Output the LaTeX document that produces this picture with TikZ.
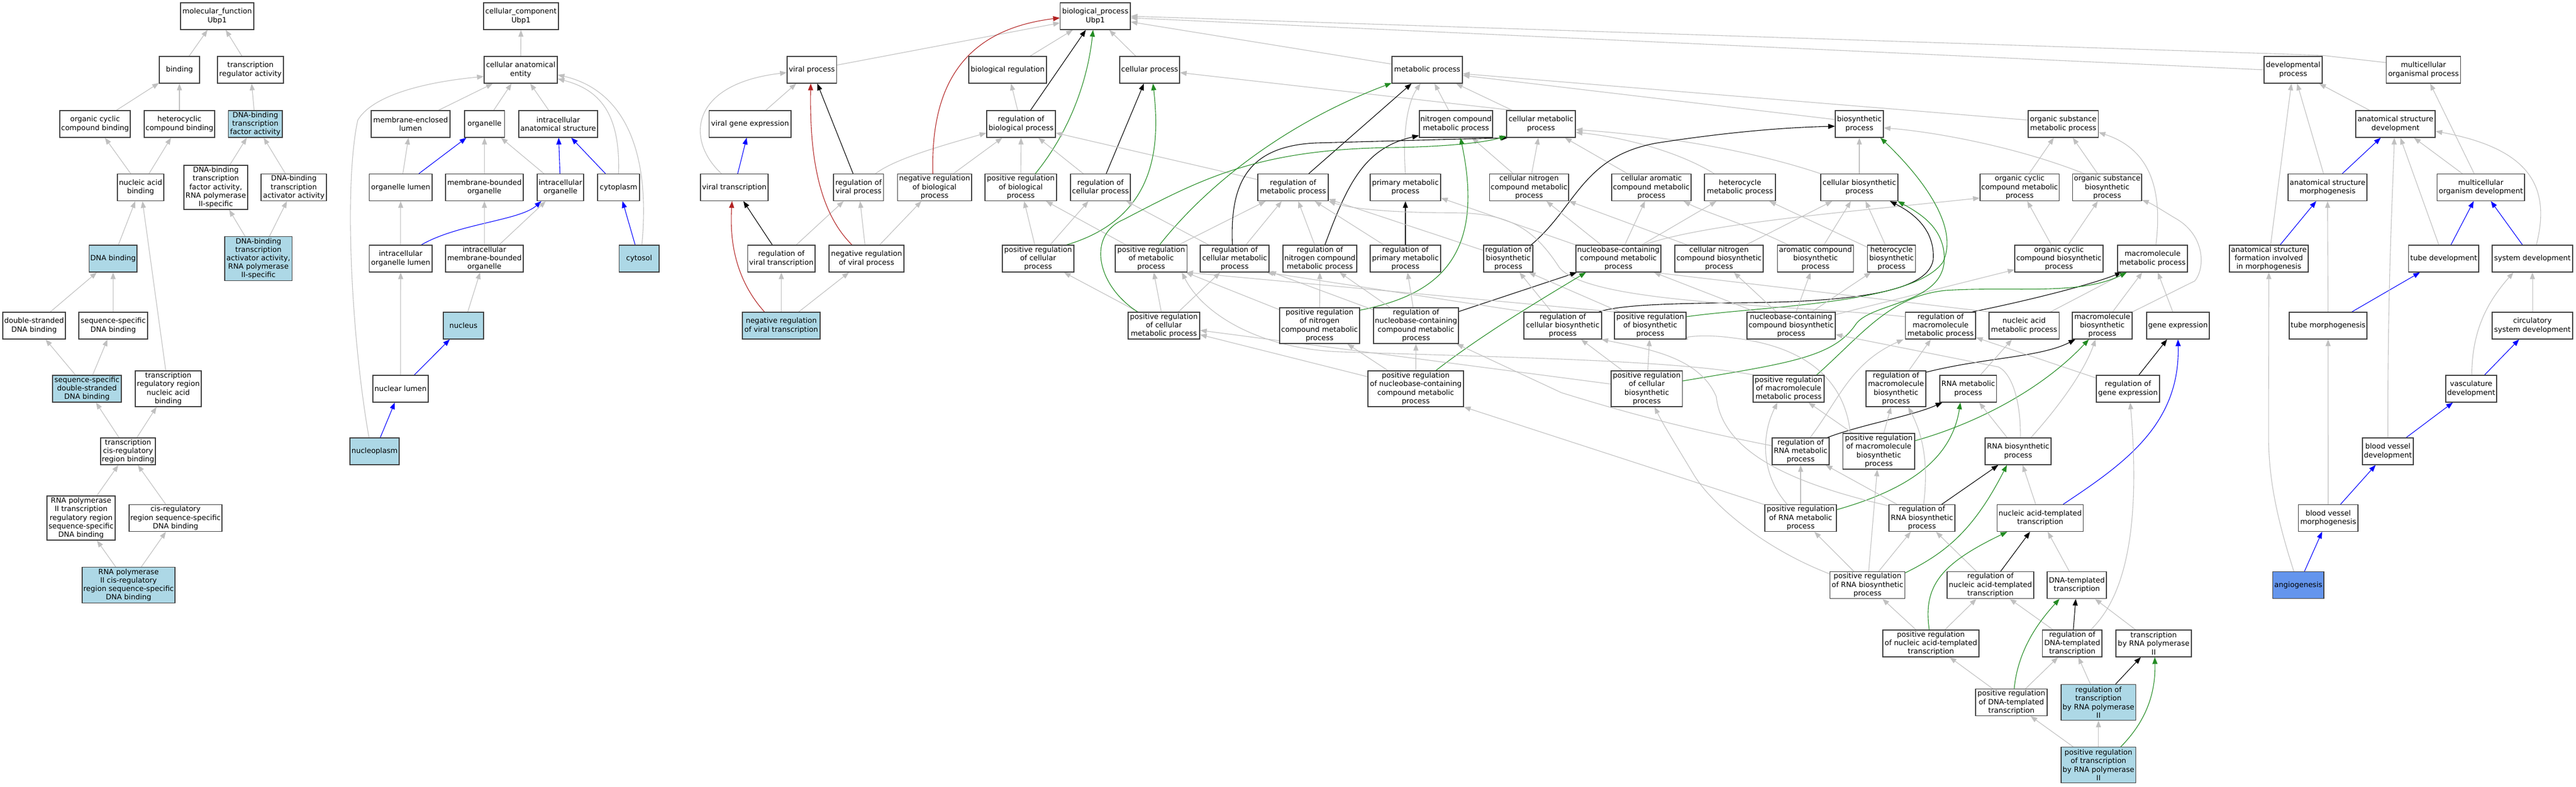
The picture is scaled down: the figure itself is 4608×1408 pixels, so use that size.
\documentclass[tikz,border=0pt]{standalone}
\usepackage{fontspec}
\setmainfont{DejaVu Sans}
\usetikzlibrary{arrows.meta}
\definecolor{edgegrey}{RGB}{192,192,192}
\definecolor{boxline}{RGB}{64,64,64}
\definecolor{lblue}{RGB}{173,216,230}
\definecolor{cblue}{RGB}{100,149,237}
\definecolor{fgreen}{RGB}{34,139,34}
\definecolor{fred}{RGB}{178,34,34}
\definecolor{pblue}{RGB}{0,0,255}
\pgfdeclarelayer{bglayer}
\pgfdeclarelayer{edgelayer}
\pgfsetlayers{bglayer,edgelayer,main}
\tikzset{
 gobox/.style={draw=boxline, line width=1.3pt, fill=white, inner sep=0pt, align=center, font=\fontsize{13}{15.2}\selectfont, text=black},
 lb/.style={fill=lblue},
 cb/.style={fill=cblue},
 gotip/.style={-{Triangle[length=12pt,width=9pt]}},
 eg/.style={gotip, draw=edgegrey, line width=1.1pt},
 ek/.style={gotip, draw=black, line width=1.1pt},
 eu/.style={gotip, draw=pblue, line width=1.1pt},
 en/.style={gotip, draw=fgreen, line width=1.1pt},
 er/.style={gotip, draw=fred, line width=1.1pt},
}
\newcommand{\GOnode}[7]{\node[gobox,#6,minimum width={(#3)-(#2)},minimum height={#5}] (#1) at ({((#2)+(#3))/2},{#4}) {#7};}
\newcommand{\GOe}[3][eg]{\draw[#1] (#2) -- (#3);}
\begin{document}
\begin{tikzpicture}[x=1pt,y=-1pt]
\begin{pgfonlayer}{bglayer}
\fill[white] (0,0) rectangle (4608,1408);
\end{pgfonlayer}
\useasboundingbox (0,0) rectangle (4608,1408);
% ---------------- molecular function
\GOnode{mf}{323}{454}{29}{48}{}{molecular\_function\\Ubp1}
\GOnode{bind}{285}{357}{125}{48}{}{binding}
\GOnode{tra}{389}{507}{125}{48}{}{transcription\\regulator activity}
\GOnode{occb}{107}{233}{222}{48}{}{organic cyclic\\compound binding}
\GOnode{hcb}{258}{384}{222}{48}{}{heterocyclic\\compound binding}
\GOnode{dbtf}{408.5}{505}{222}{48}{lb}{DNA-binding\\transcription\\factor activity}
\GOnode{nab}{210}{293}{335.5}{48}{}{nucleic acid\\binding}
\GOnode{dbtfp}{329}{443}{335.5}{79}{}{DNA-binding\\transcription\\factor activity,\\RNA polymerase\\II-specific}
\GOnode{dbtaa}{467}{584}{335.5}{48}{}{DNA-binding\\transcription\\activator activity}
\GOnode{dnab}{159.5}{245}{463}{48}{lb}{DNA binding}
\GOnode{dbtaap}{402}{522.5}{463}{79}{lb}{DNA-binding\\transcription\\activator activity,\\RNA polymerase\\II-specific}
\GOnode{dsdb}{5}{117}{583}{48}{}{double-stranded\\DNA binding}
\GOnode{ssdb}{141}{264}{583}{48}{}{sequence-specific\\DNA binding}
\GOnode{ssds}{94}{217}{696}{48}{lb}{sequence-specific\\double-stranded\\DNA binding}
\GOnode{trrnab}{242}{360}{696}{64}{}{transcription\\regulatory region\\nucleic acid\\binding}
\GOnode{tcrb}{180}{278}{808}{48}{}{transcription\\cis-regulatory\\region binding}
\GOnode{rptr}{84}{206}{927.5}{79}{}{RNA polymerase\\II transcription\\regulatory region\\sequence-specific\\DNA binding}
\GOnode{crss}{231}{397}{927.5}{48}{}{cis-regulatory\\region sequence-specific\\DNA binding}
\GOnode{rpcr}{147}{313}{1047.5}{64}{lb}{RNA polymerase\\II cis-regulatory\\region sequence-specific\\DNA binding}
% ---------------- cellular component
\GOnode{cc}{865}{999}{29}{48}{}{cellular\_component\\Ubp1}
\GOnode{cae}{866}{997}{125}{48}{}{cellular anatomical\\entity}
\GOnode{mel}{664}{805}{222}{48}{}{membrane-enclosed\\lumen}
\GOnode{org}{831}{902.5}{222}{48}{}{organelle}
\GOnode{ias}{928}{1069}{222}{48}{}{intracellular\\anatomical structure}
\GOnode{ol}{660.5}{773}{335.5}{48}{}{organelle lumen}
\GOnode{mbo}{797}{936}{335.5}{48}{}{membrane-bounded\\organelle}
\GOnode{io}{961}{1044}{335.5}{48}{}{intracellular\\organelle}
\GOnode{cyp}{1069}{1144}{335.5}{48}{}{cytoplasm}
\GOnode{iol}{660.5}{773}{463}{48}{}{intracellular\\organelle lumen}
\GOnode{imbo}{797}{936}{463}{48}{}{intracellular\\membrane-bounded\\organelle}
\GOnode{cyt}{1107.5}{1179}{463}{48}{lb}{cytosol}
\GOnode{nuc}{793}{865}{583}{48}{lb}{nucleus}
\GOnode{nl}{667}{766}{696}{48}{}{nuclear lumen}
\GOnode{np}{626}{714}{808}{48}{lb}{nucleoplasm}
% ---------------- biological process
\GOnode{bp}{1896.5}{2022}{29}{48}{}{biological\_process\\Ubp1}
\GOnode{vp}{1408}{1496.5}{125}{48}{}{viral process}
\GOnode{br}{1733}{1872}{125}{48}{}{biological regulation}
\GOnode{cp}{2003}{2110}{125}{48}{}{cellular process}
\GOnode{mp}{2490}{2616}{125}{48}{}{metabolic process}
\GOnode{dp}{4050}{4154}{125}{48}{}{developmental\\process}
\GOnode{mop}{4268.6}{4401.6}{125}{48}{}{multicellular\\organismal process}
\GOnode{vge}{1268.5}{1415}{222}{48}{}{viral gene expression}
\GOnode{rbp}{1765}{1888}{222}{48}{}{regulation of\\biological process}
\GOnode{ncmp}{2539}{2670}{222}{48}{}{nitrogen compound\\metabolic process}
\GOnode{cmp}{2695}{2818}{222}{48}{}{cellular metabolic\\process}
\GOnode{bsp}{3283}{3369}{222}{48}{}{biosynthetic\\process}
\GOnode{osmp}{3628}{3753.5}{222}{48}{}{organic substance\\metabolic process}
\GOnode{asd}{4214}{4356}{222}{48}{}{anatomical structure\\development}
\GOnode{vt}{1253}{1374}{335.5}{48}{}{viral transcription}
\GOnode{rvp}{1491}{1580.5}{335.5}{48}{}{regulation of\\viral process}
\GOnode{nrbp}{1605.5}{1738}{335.5}{48}{}{negative regulation\\of biological\\process}
\GOnode{prbp}{1762}{1890}{335.5}{48}{}{positive regulation\\of biological\\process}
\GOnode{rcp}{1915}{2022}{335.5}{48}{}{regulation of\\cellular process}
\GOnode{rmp}{2250}{2376}{335.5}{48}{}{regulation of\\metabolic process}
\GOnode{pmp}{2451}{2577}{335.5}{48}{}{primary metabolic\\process}
\GOnode{cncmp}{2664.5}{2806}{335.5}{48}{}{cellular nitrogen\\compound metabolic\\process}
\GOnode{cacmp}{2883}{3025}{335.5}{48}{}{cellular aromatic\\compound metabolic\\process}
\GOnode{hmp}{3049}{3176}{335.5}{48}{}{heterocycle\\metabolic process}
\GOnode{cbp}{3257}{3395}{335.5}{48}{}{cellular biosynthetic\\process}
\GOnode{occmp}{3542}{3683.5}{335.5}{48}{}{organic cyclic\\compound metabolic\\process}
\GOnode{osbp}{3707.5}{3831}{335.5}{48}{}{organic substance\\biosynthetic\\process}
\GOnode{asm}{4093}{4234}{335.5}{48}{}{anatomical structure\\morphogenesis}
\GOnode{mod}{4359.6}{4516}{335.5}{48}{}{multicellular\\organism development}
\GOnode{rvt}{1337.5}{1458}{463}{48}{}{regulation of\\viral transcription}
\GOnode{nrvp}{1483}{1617}{463}{48}{}{negative regulation\\of viral process}
\GOnode{prcp}{1793}{1921}{463}{48}{}{positive regulation\\of cellular\\process}
\GOnode{prmp}{1995}{2123.5}{463}{48}{}{positive regulation\\of metabolic\\process}
\GOnode{rcmp}{2147}{2270}{463}{48}{}{regulation of\\cellular metabolic\\process}
\GOnode{rncmp}{2295}{2427}{463}{48}{}{regulation of\\nitrogen compound\\metabolic process}
\GOnode{rpmp}{2451}{2577}{463}{48}{}{regulation of\\primary metabolic\\process}
\GOnode{rbiop}{2654}{2742}{463}{48}{}{regulation of\\biosynthetic\\process}
\GOnode{nccmp}{2819}{2971}{463}{48}{}{nucleobase-containing\\compound metabolic\\process}
\GOnode{cncbp}{2996}{3154}{463}{48}{}{cellular nitrogen\\compound biosynthetic\\process}
\GOnode{acbp}{3179.6}{3315.6}{463}{48}{}{aromatic compound\\biosynthetic\\process}
\GOnode{hbp}{3340.6}{3426.7}{463}{48}{}{heterocycle\\biosynthetic\\process}
\GOnode{occbp}{3604}{3762}{463}{48}{}{organic cyclic\\compound biosynthetic\\process}
\GOnode{mmp}{3788}{3913}{463}{48}{}{macromolecule\\metabolic process}
\GOnode{asfim}{3988}{4129}{463}{48}{}{anatomical structure\\formation involved\\in morphogenesis}
\GOnode{td}{4308.7}{4434}{463}{48}{}{tube development}
\GOnode{sd}{4458}{4602}{463}{48}{}{system development}
\GOnode{nrvt}{1328}{1467}{583}{48}{lb}{negative regulation\\of viral transcription}
\GOnode{prcmp}{2018}{2146}{583}{48}{}{positive regulation\\of cellular\\metabolic process}
\GOnode{prncmp}{2289}{2432}{583}{64}{}{positive regulation\\of nitrogen\\compound metabolic\\process}
\GOnode{rnccmp}{2457}{2609}{583}{64}{}{regulation of\\nucleobase-containing\\compound metabolic\\process}
\GOnode{rcbp}{2726}{2865}{583}{48}{}{regulation of\\cellular biosynthetic\\process}
\GOnode{prbiop}{2888}{3016}{583}{48}{}{positive regulation\\of biosynthetic\\process}
\GOnode{nccbp}{3125}{3283}{583}{48}{}{nucleobase-containing\\compound biosynthetic\\process}
\GOnode{rmmp}{3408.6}{3534}{583}{48}{}{regulation of\\macromolecule\\metabolic process}
\GOnode{namp}{3558}{3683.5}{583}{48}{}{nucleic acid\\metabolic process}
\GOnode{mbp}{3707}{3814}{583}{48}{}{macromolecule\\biosynthetic\\process}
\GOnode{ge}{3840}{3952}{583}{48}{}{gene expression}
\GOnode{tm}{4095}{4234}{583}{48}{}{tube morphogenesis}
\GOnode{csd}{4458}{4602}{583}{48}{}{circulatory\\system development}
\GOnode{prnccmp}{2447}{2618}{696}{64}{}{positive regulation\\of nucleobase-containing\\compound metabolic\\process}
\GOnode{prcbp}{2882}{3009.5}{696}{64}{}{positive regulation\\of cellular\\biosynthetic\\process}
\GOnode{prmmp}{3136}{3263}{696}{48}{}{positive regulation\\of macromolecule\\metabolic process}
\GOnode{rmbp}{3338}{3445}{696}{64}{}{regulation of\\macromolecule\\biosynthetic\\process}
\GOnode{rnamp}{3470}{3571.5}{696}{48}{}{RNA metabolic\\process}
\GOnode{rge}{3750}{3863}{696}{48}{}{regulation of\\gene expression}
\GOnode{vd}{4375}{4466}{696}{48}{}{vasculature\\development}
\GOnode{rrnamp}{3170}{3272}{808}{48}{}{regulation of\\RNA metabolic\\process}
\GOnode{prmbp}{3296.6}{3425}{808}{64}{}{positive regulation\\of macromolecule\\biosynthetic\\process}
\GOnode{rnabp}{3551}{3669}{808}{48}{}{RNA biosynthetic\\process}
\GOnode{bvd}{4226}{4317}{808}{48}{}{blood vessel\\development}
\GOnode{prrnamp}{3157}{3285}{927.5}{48}{}{positive regulation\\of RNA metabolic\\process}
\GOnode{rrnabp}{3379}{3497}{927.5}{48}{}{regulation of\\RNA biosynthetic\\process}
\GOnode{natt}{3572.5}{3726.6}{927.5}{48}{}{nucleic acid-templated\\transcription}
\GOnode{bvm}{4111.5}{4218}{927.5}{48}{}{blood vessel\\morphogenesis}
\GOnode{prrnabp}{3273.6}{3407.6}{1047.5}{48}{}{positive regulation\\of RNA biosynthetic\\process}
\GOnode{rnatt}{3483}{3638}{1047.5}{48}{}{regulation of\\nucleic acid-templated\\transcription}
\GOnode{dtt}{3662}{3768}{1047.5}{48}{}{DNA-templated\\transcription}
\GOnode{ang}{4065.5}{4157}{1047.5}{48}{cb}{angiogenesis}
\GOnode{prnatt}{3368}{3540}{1152}{48}{}{positive regulation\\of nucleic acid-templated\\transcription}
\GOnode{rdtt}{3653.7}{3760}{1152}{48}{}{regulation of\\DNA-templated\\transcription}
\GOnode{trp}{3785}{3920}{1152}{48}{}{transcription\\by RNA polymerase\\II}
\GOnode{prdtt}{3534}{3662}{1257.5}{48}{}{positive regulation\\of DNA-templated\\transcription}
\GOnode{rtrp}{3687}{3820.5}{1257.5}{64}{lb}{regulation of\\transcription\\by RNA polymerase\\II}
\GOnode{prtrp}{3687}{3820.5}{1369.5}{64}{lb}{positive regulation\\of transcription\\by RNA polymerase\\II}
% ================= edges
\begin{pgfonlayer}{edgelayer}
% MF
\GOe{bind}{mf} \GOe{tra}{mf} \GOe{occb}{bind} \GOe{hcb}{bind} \GOe{dbtf}{tra}
\GOe{nab}{occb} \GOe{nab}{hcb} \GOe{dbtfp}{dbtf} \GOe{dbtaa}{dbtf}
\GOe{dbtaap}{dbtfp} \GOe{dbtaap}{dbtaa} \GOe{dnab}{nab} \GOe{trrnab}{nab}
\GOe{dsdb}{dnab} \GOe{ssdb}{dnab} \GOe{ssds}{dsdb} \GOe{ssds}{ssdb}
\GOe{tcrb}{ssds} \GOe{tcrb}{trrnab} \GOe{rptr}{tcrb} \GOe{crss}{tcrb}
\GOe{rpcr}{rptr} \GOe{rpcr}{crss}
% CC
\GOe{cae}{cc} \GOe{mel}{cae} \GOe{org}{cae} \GOe{ias}{cae}
\draw[eg] (cyp.north) .. controls (1110,200) and (1070,160) .. ([yshift=-16pt]cae.east);
\draw[eg] ([xshift=5pt]cyt.north) .. controls (1165,260) and (1110,160) .. ([yshift=-9pt]cae.east);
\draw[eg] ([xshift=-10pt]np.north) .. controls (628,600) and (615,330) .. (640,215) .. controls (670,165) and (780,145) .. ([yshift=-12pt]cae.west);
\GOe{ol}{mel} \GOe[eu]{ol}{org} \GOe{mbo}{org} \GOe{io}{org} \GOe[eu]{io}{ias} \GOe[eu]{cyp}{ias}
\GOe{iol}{ol}
\draw[eu] ([xshift=-20pt]iol.north east) .. controls (820,400) and (930,395) .. ([xshift=8pt]io.south west);
\GOe{imbo}{mbo} \GOe{imbo}{io} \GOe[eu]{cyt}{cyp} \GOe{nuc}{imbo} \GOe{nl}{iol} \GOe[eu]{nl}{nuc} \GOe[eu]{np}{nl}
% BP top
\GOe{vp}{bp} \GOe{br}{bp} \GOe{cp}{bp} \GOe{mp}{bp}
\draw[eg] (dp.west) -- ([yshift=-3pt]bp.east);
\draw[eg] ([yshift=13pt]mop.west) -- (4153,99) -- (bp.east);
% rank 2
\GOe{vge}{vp} \GOe{rbp}{br} \GOe[ek]{rbp}{bp} \GOe{ncmp}{mp} \GOe{cmp}{mp}
\draw[eg] ([xshift=10pt]cmp.north west) -- ([yshift=-5pt]cp.east);
\draw[eg] ([yshift=8pt]bsp.west) -- ([yshift=-10pt]mp.east);
\draw[eg] ([yshift=7pt]osmp.west) -- ([yshift=-7pt]mp.east);
\GOe{asd}{dp}
% rank 3
\draw[eg] ([xshift=-23pt]vt.north) .. controls (1225,250) and (1235,150) .. ([yshift=-5pt]vp.west);
\GOe[eu]{vt}{vge}
\GOe[ek]{rvp}{vp}
\draw[eg] ([xshift=-15pt]rvp.north east) .. controls (1600,285) and (1680,262) .. ([yshift=-16pt]rbp.west);
\GOe{nrbp}{rbp}
\draw[er] ([xshift=-3pt]nrbp.north) .. controls (1665,170) and (1710,55) .. ([yshift=-3pt]bp.west);
\GOe{prbp}{rbp}
\draw[en] ([xshift=26pt]prbp.north) .. controls (1910,240) and (1945,150) .. ([xshift=-4pt]bp.south);
\GOe{rcp}{rbp} \GOe[ek]{rcp}{cp}
\draw[eg] ([yshift=14pt]rmp.west) -- ([yshift=-16pt]rbp.east);
\GOe[ek]{rmp}{mp}
\draw[eg] (pmp.north) .. controls (2508,230) and (2520,180) .. ([xshift=-12pt]mp.south);
\GOe{cncmp}{ncmp} \GOe{cncmp}{cmp} \GOe{cacmp}{cmp}
\draw[eg] ([xshift=18pt]hmp.north west) .. controls (3000,270) and (2900,245) .. ([yshift=-15pt]cmp.east);
\GOe{cbp}{bsp}
\draw[eg] (cbp.north west) .. controls (3150,275) and (3000,245) .. ([yshift=-10pt]cmp.east);
\GOe{occmp}{osmp} \GOe{osbp}{osmp}
\draw[eg] ([xshift=-41pt]osbp.north) .. controls (3600,260) and (3450,235) .. ([yshift=-7pt]bsp.east);
\GOe{asm}{dp} \GOe[eu]{asm}{asd} \GOe{mod}{mop} \GOe{mod}{asd}
% rank 4
\GOe[ek]{rvt}{vt} \GOe{rvt}{rvp}
\GOe{nrvp}{rvp} \GOe{nrvp}{nrbp}
\draw[er] ([xshift=-26pt]nrvp.north) .. controls (1465,380) and (1448,280) .. ([xshift=-2pt]vp.south);
\GOe{prcp}{prbp} \GOe{prcp}{rcp}
\draw[en] ([xshift=51pt]prcp.north) .. controls (2070,390) and (2075,260) .. ([xshift=6pt]cp.south);
\GOe{prmp}{prbp} \GOe{prmp}{rmp}
\draw[en] ([xshift=15pt]prmp.north) .. controls (2160,330) and (2300,220) .. ([yshift=1pt]mp.south west);
\GOe{rcmp}{rcp} \GOe{rcmp}{rmp}
\draw[ek] ([xshift=-4pt]rcmp.north) .. controls (2200,330) and (2230,262) .. (2353,256) -- ([xshift=3pt]cmp.south west);
\GOe{rncmp}{rmp}
\draw[ek] ([xshift=9pt]rncmp.north) .. controls (2410,330) and (2440,265) .. ([yshift=4pt]ncmp.south west);
\GOe{rpmp}{rmp} \GOe[ek]{rpmp}{pmp}
\GOe{rbiop}{rmp}
\draw[ek] ([xshift=41pt]rbiop.north) .. controls (2820,370) and (2830,280) .. (2964,256) .. controls (3100,235) and (3200,228) .. ([yshift=-4pt]bsp.west);
\GOe{nccmp}{cncmp} \GOe{nccmp}{cacmp} \GOe{nccmp}{hmp}
\draw[eg] ([xshift=-31pt]nccmp.north east) .. controls (3050,400) and (3300,380) .. ([yshift=-19pt]occmp.west);
\draw[eg] (nccmp.north west) -- ([yshift=-19pt]pmp.east);
\draw[eg] ([xshift=-57pt]cncbp.north) -- (cncmp.south east);
\GOe{cncbp}{cbp}
\draw[eg] ([xshift=-49pt]acbp.north) .. controls (3120,400) and (3050,380) .. ([xshift=-14pt]cacmp.south east);
\GOe{acbp}{cbp} \GOe{hbp}{cbp} \GOe{hbp}{hmp} \GOe{occbp}{occmp} \GOe{occbp}{osbp}
\draw[eg] ([xshift=6pt]mmp.north) .. controls (3870,330) and (3840,265) .. ([yshift=-15pt]osmp.east);
\GOe{asfim}{dp} \GOe[eu]{asfim}{asm} \GOe{td}{asd} \GOe[eu]{td}{mod} \GOe[eu]{sd}{mod}
\draw[eg] ([xshift=7pt]sd.north) .. controls (4565,330) and (4520,265) .. ([yshift=-13pt]asd.east);
% rank 5
\GOe{nrvt}{rvt} \GOe{nrvt}{nrvp}
\draw[er] ([xshift=-30pt]nrvt.north) .. controls (1315,500) and (1305,430) .. ([xshift=-4pt]vt.south);
\GOe{prcmp}{prcp} \GOe{prcmp}{prmp} \GOe{prcmp}{rcmp}
\draw[en] ([xshift=-47pt]prcmp.north) .. controls (1960,510) and (1945,420) .. (2010,393) .. controls (2150,320) and (2250,266) .. (2500,264) .. controls (2600,262) and (2660,254) .. ([yshift=3pt]cmp.south west);
\GOe{prncmp}{rncmp} \GOe{prncmp}{prmp}
\draw[en] ([yshift=-5pt]prncmp.north east) .. controls (2560,530) and (2660,470) .. ([xshift=8pt]ncmp.south);
\GOe{rnccmp}{rncmp} \GOe{rnccmp}{rpmp} \GOe{rnccmp}{rcmp} \GOe[ek]{rnccmp}{nccmp}
\GOe{rcbp}{rbiop}
\draw[eg] ([xshift=3pt]rcbp.north west) -- ([xshift=-5pt]rcmp.south east);
\draw[ek] ([xshift=-6pt]rcbp.north east) .. controls (2900,545) and (3000,543) .. (3120,542) .. controls (3350,540) and (3450,515) .. (3458,465) .. controls (3462,410) and (3420,380) .. ([xshift=-15pt]cbp.south east);
\draw[eg] ([xshift=10pt]prbiop.north west) -- ([xshift=-8pt]rbiop.south east);
\draw[eg] (prbiop.north west) -- ([xshift=-2pt]prmp.south east);
\draw[en] ([yshift=16pt]prbiop.east) .. controls (3150,548) and (3420,545) .. (3475,470) .. controls (3510,400) and (3420,300) .. ([xshift=-6pt]bsp.south east);
\GOe{nccbp}{nccmp} \GOe{nccbp}{cncbp} \GOe{nccbp}{acbp} \GOe{nccbp}{hbp} \GOe{nccbp}{occbp}
\draw[eg] ([yshift=16pt]rmmp.west) .. controls (3200,545) and (2850,545) .. (2790,480) .. controls (2745,410) and (2700,381) .. (2600,381) .. controls (2500,381) and (2420,375) .. (rmp.south east);
\draw[ek] ([xshift=-7pt]rmmp.north east) .. controls (3620,540) and (3740,510) .. ([xshift=8pt]mmp.south west);
\draw[eg] (namp.north west) -- ([xshift=-14pt]nccmp.south east);
\GOe{namp}{mmp} \GOe{mbp}{mmp} \GOe{ge}{mmp}
\draw[eg] (mbp.north east) -- (3926,503) .. controls (3945,480) and (3945,420) .. (3890,390) .. controls (3870,378) and (3850,365) .. ([yshift=2pt]osbp.south east);
\GOe{tm}{asm} \GOe[eu]{tm}{td} \GOe{csd}{sd}
% rank 6
\GOe{prnccmp}{rnccmp} \GOe{prnccmp}{prncmp} \GOe{prnccmp}{prcmp}
\draw[en] ([xshift=36pt]prnccmp.north) .. controls (2650,600) and (2750,540) .. ([xshift=-58pt]nccmp.south);
\GOe{prcbp}{prbiop} \GOe{prcbp}{rcbp} \GOe{prcbp}{prcmp}
\draw[en] ([yshift=14pt]prcbp.east) .. controls (3200,650) and (3280,640) .. (3320,580) .. controls (3350,540) and (3480,545) .. (3478,460) .. controls (3476,410) and (3440,385) .. ([xshift=-1pt]cbp.south east);
\draw[eg] ([xshift=2pt]prmmp.north west) .. controls (3000,645) and (2700,640) .. (2400,630) .. controls (2250,625) and (2150,560) .. ([xshift=-10pt]prmp.south east);
\draw[en] ([xshift=50pt]prmmp.north) .. controls (3330,600) and (3380,530) .. (3480,520) .. controls (3600,512) and (3720,530) .. ([xshift=17pt]mmp.south west);
\GOe{rmbp}{rmmp}
\draw[ek] ([yshift=-3pt]rmbp.north east) .. controls (3550,640) and (3650,640) .. ([xshift=6pt]mbp.south west);
\GOe{rnamp}{namp}
\GOe{rge}{rmmp} \GOe[ek]{rge}{ge}
\GOe[eu]{vd}{csd}
\draw[eg] ([xshift=1pt]vd.north) .. controls (4422,590) and (4450,540) .. ([xshift=-34pt]sd.south);
% rank 7
\draw[eg] ([yshift=10pt]rrnamp.west) .. controls (3000,765) and (2880,730) .. (2793,703) -- ([xshift=-4pt]rnccmp.south east);
\draw[eg] ([xshift=17pt]rrnamp.north) .. controls (3290,715) and (3310,650) .. ([xshift=-3pt]rmmp.south west);
\draw[ek] ([xshift=-4pt]rrnamp.north east) .. controls (3330,760) and (3420,745) .. ([xshift=5pt]rnamp.south west);
\GOe{prmbp}{rmbp} \GOe{prmbp}{prmmp}
\draw[eg] ([xshift=-51pt]prmbp.north) .. controls (3300,680) and (3230,620) .. (3100,605) .. controls (3050,598) and (3020,603) .. ([xshift=-10pt]prbiop.south east);
\draw[en] ([yshift=19pt]prmbp.east) .. controls (3530,760) and (3650,700) .. ([xshift=-24pt]mbp.south);
\GOe{rnabp}{rnamp}
\draw[eg] ([xshift=23pt]rnabp.north) .. controls (3690,720) and (3730,660) .. ([xshift=-12pt]mbp.south);
\draw[eg] ([xshift=4pt]rnabp.north) .. controls (3615,720) and (3600,670) .. (3575,657) -- ([yshift=-16pt]nccbp.east);
\GOe[eu]{bvd}{vd}
\draw[eg] (bvd.north) .. controls (4271,500) and (4280,350) .. ([xshift=-2pt]asd.south);
% rank 8
\GOe{prrnamp}{rrnamp}
\draw[eg] ([yshift=24pt]prrnamp.west) -- (prnccmp.south east);
\draw[eg] ([xshift=-24pt]prrnamp.north) .. controls (3150,850) and (3150,780) .. ([xshift=-20pt]prmmp.south);
\draw[en] ([yshift=15pt]prrnamp.east) .. controls (3400,880) and (3490,830) .. ([xshift=-14pt]rnamp.south);
\GOe{rrnabp}{rrnamp}
\draw[eg] ([xshift=3pt]rrnabp.north) .. controls (3450,830) and (3440,780) .. ([xshift=22pt]rmbp.south);
\draw[eg] ([yshift=22pt]rrnabp.west) .. controls (3180,860) and (3080,800) .. (3070,710) .. controls (3040,640) and (2950,625) .. ([xshift=-1pt]rcbp.south east);
\GOe[ek]{rrnabp}{rnabp}
\GOe{natt}{rnabp}
\draw[eu] ([xshift=41pt]natt.north) .. controls (3800,830) and (3900,760) .. (ge.south);
\GOe{bvm}{tm} \GOe[eu]{bvm}{bvd}
% rank 9
\GOe{prrnabp}{prrnamp} \GOe{prrnabp}{rrnabp} \GOe{prrnabp}{prmbp}
\draw[eg] ([yshift=20pt]prrnabp.west) .. controls (3150,980) and (3060,900) .. (3030,850) .. controls (3000,800) and (2975,760) .. ([xshift=14pt]prcbp.south);
\draw[en] ([yshift=22pt]prrnabp.east) .. controls (3480,990) and (3530,950) .. ([xshift=-20pt]rnabp.south);
\GOe{rnatt}{rrnabp} \GOe[ek]{rnatt}{natt}
\GOe{dtt}{natt}
\GOe[eu]{ang}{bvm}
\draw[eg] ([xshift=-8pt]ang.north) .. controls (4070,920) and (4058,850) .. (4058,780) -- (asfim.south);
% rank 10
\GOe{prnatt}{prrnabp} \GOe{prnatt}{rnatt}
\draw[en] ([xshift=-3pt]prnatt.north) .. controls (3440,1050) and (3470,1010) .. ([xshift=-59pt]natt.south);
\GOe{rdtt}{rnatt} \GOe[ek]{rdtt}{dtt}
\draw[eg] ([xshift=33pt]rdtt.north) .. controls (3800,1070) and (3830,950) .. ([xshift=4pt]rge.south);
\GOe{trp}{dtt}
% rank 11
\GOe{prdtt}{prnatt} \GOe{prdtt}{rdtt}
\draw[en] ([xshift=5pt]prdtt.north) .. controls (3610,1160) and (3650,1110) .. ([xshift=-31pt]dtt.south);
\GOe{rtrp}{rdtt} \GOe[ek]{rtrp}{trp}
% rank 12
\GOe{prtrp}{prdtt} \GOe{prtrp}{rtrp}
\draw[en] ([xshift=40pt]prtrp.north) .. controls (3840,1290) and (3856,1240) .. ([xshift=2pt]trp.south);
\end{pgfonlayer}
\end{tikzpicture}
\end{document}
